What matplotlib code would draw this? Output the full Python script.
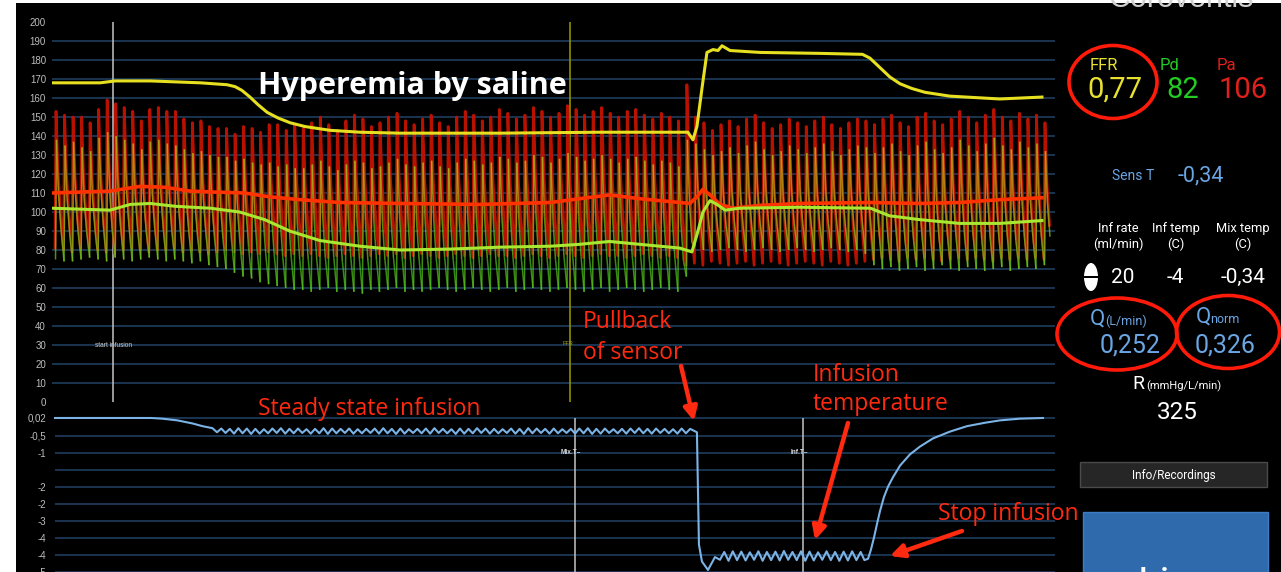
#!/usr/bin/env python3
"""Continuous thermodilution screen: pressures, FFR and infusion temperature."""

import numpy as np
import matplotlib
matplotlib.use("Agg")
import matplotlib.pyplot as plt
from matplotlib import font_manager
from matplotlib.patches import Rectangle, Ellipse
from matplotlib.collections import LineCollection
from matplotlib.colors import LinearSegmentedColormap, Normalize

W, H = 1281, 572

# ---------------- data ----------------
# beat clock of the pressure traces (seconds)
first_beat = 0.3
beat_period = 0.85

# aortic pressure Pa per beat (mmHg)
pa_sys = [153, 151, 150, 150, 147, 154, 159, 157, 155, 153,
          148, 154, 155, 153, 153, 149, 147, 148, 145, 144,
          144, 141, 145, 144, 142, 146, 146, 143, 146,
          144, 147, 150, 146, 143, 148, 151, 149, 145, 147,
          150, 152, 148, 146, 149, 151, 147, 145, 150, 153,
          151, 148, 150, 154, 152, 149, 151, 155, 153, 150,
          152, 156, 154, 151, 153, 155, 152, 150, 153, 154,
          151, 149, 152, 150, 148,
          167,
          150, 147, 143, 146, 148, 145, 149, 151, 147, 144,
          146, 149, 147, 145, 148, 150, 146, 144, 147, 149, 148,
          146, 149, 151, 147, 145, 150, 152, 148, 146, 149,
          153, 150, 147, 151, 154, 150, 148, 152, 149, 151, 147]
pa_dia = [81, 80, 79, 80, 81, 80, 79, 78, 80, 81,
          80, 79, 80, 80, 81, 79, 80, 79, 78, 79,
          80, 79, 78, 79, 78, 79, 78, 77, 78,
          77, 78, 77, 76, 77, 78, 77, 76, 77, 78,
          77, 78, 76, 77, 78, 77, 76, 77, 78, 77,
          76, 77, 78, 77, 77, 76, 77, 78, 77, 76,
          77, 78, 77, 76, 77, 78, 77, 77, 76, 77,
          78, 77, 76, 77, 76,
          72,
          73, 72, 74, 73, 72, 73, 74, 72, 73, 74,
          73, 72, 73, 74, 73, 72, 74, 73, 72, 73, 74,
          75, 76, 75, 74, 76, 75, 76, 75, 74, 75,
          76, 75, 76, 75, 74, 76, 75, 76, 75, 76, 75]

# distal pressure Pd per beat (mmHg)
pd_sys = [138, 135, 137, 134, 132, 139, 142, 140, 138, 136,
          133, 137, 138, 136, 135, 133, 131, 132, 130, 129, 129,
          127, 128, 126, 125, 126, 124, 125, 123,
          123, 125, 127, 124, 122, 125, 127, 126, 123, 124,
          126, 128, 125, 124, 126, 127, 124, 123, 126, 128,
          127, 125, 126, 129, 128, 126, 127, 130, 129, 126,
          128, 131, 129, 127, 128, 130, 128, 126, 128, 129,
          127, 125, 127, 126, 124,
          138,
          136, 133, 130, 132, 134, 131, 135, 137, 133, 130,
          132, 135, 133, 131, 134, 136, 132, 130, 133, 135, 134,
          131, 134, 136, 132, 130, 135, 137, 133, 131, 134,
          138, 135, 132, 136, 139, 135, 133, 137, 134, 136, 132]
pd_dia = [75, 74, 74, 75, 76, 75, 74, 76, 75, 74,
          75, 76, 75, 74, 75, 74, 73, 74, 72,
          71, 70, 68, 66, 65, 63, 62, 61, 60, 59,
          59, 58, 59, 60, 58, 59, 58, 57, 59, 58,
          59, 60, 58, 59, 58, 59, 60, 59, 58, 59,
          60, 59, 58, 59, 60, 58, 59, 60, 59, 58,
          59, 60, 59, 58, 59, 60, 58, 59, 60, 59,
          58, 59, 60, 59, 58,
          66,
          82, 80, 79, 80, 81, 80, 79, 80, 81, 80,
          79, 80, 81, 80, 79, 80, 81, 80, 79, 80, 78,
          72, 70, 71, 69, 70, 71, 69, 70, 72, 70,
          69, 71, 70, 69, 70, 71, 69, 70, 71, 70, 72]

# mean pressures and the upper ratio trace
pa_mean_t = [0.0, 2.8, 5.8, 8.8, 11.3, 13.8, 16.3, 19.2, 21.7, 24.7, 28.7,
             34.7, 42.7, 49.7, 52.6, 55.6, 58.6, 62.6, 63.6, 64.3, 64.9,
             65.6, 66.6, 67.9, 70.6, 74.6, 81.6, 86.5, 90.5, 94.5, 98.7]
pa_mean = [110, 110.5, 111, 113.5, 113, 111, 110.5, 110, 108, 106.5, 105,
           104.5, 104, 105, 107, 109, 107, 105, 104.5, 108, 112,
           109, 104, 102, 103.5, 104.5, 105, 104.5, 105, 106.5, 107.5]
pd_mean_t = [0.0, 2.8, 5.8, 7.8, 9.8, 12.3, 15.8, 18.7, 21.2, 23.7, 26.7,
             30.7, 34.7, 39.7, 44.7, 49.7, 52.6, 55.6, 58.6, 62.6, 63.8,
             64.3, 64.9, 65.6, 66.3, 67.1, 68.6, 74.6, 81.6, 83.5, 86.5,
             90.5, 94.5, 98.7]
pd_mean = [102, 101.5, 101, 104, 104.5, 103, 102, 100, 96, 90, 85,
           82, 80, 80.5, 81.5, 82, 83, 84.5, 83, 81, 79,
           88, 100, 106, 104, 101, 102, 102.5, 102, 98, 96,
           94, 94, 95.5]
ratio_t = [0.0, 4.8, 6.3, 9.8, 14.8, 17.45, 18.25, 18.94, 19.74, 20.54, 21.44,
           22.53, 23.73, 25.22, 27.72, 30.71, 34.7, 44.7, 54.6, 63.4, 63.9,
           64.3, 64.8, 65.3, 65.9, 66.4, 66.8, 67.6, 70.6, 76.6, 80.8,
           81.55, 82.55, 83.55, 84.55, 85.74, 87.04, 89.5, 94.5, 98.7]
ratio = [168, 168, 169, 169, 168, 167, 166, 164, 160.5, 156.5, 152.5,
         149.5, 147, 145, 143, 142, 141.5, 141.5, 142, 142, 138,
         145, 165, 184, 185.5, 185, 187.5, 185, 184, 183.5, 183,
         181, 176, 171, 167.5, 165, 163, 161, 159.5, 160.5]

# blood temperature (C)
temp_pre_t = [0.3, 5.0, 9.9, 11.0, 12.5, 14.0, 15.0, 16.0]
temp_pre = [0.02, 0.02, 0.02, 0.0, -0.05, -0.14, -0.22, -0.28]
steady_first_beat = 19
steady_lo = [-0.40, -0.42, -0.44, -0.43, -0.45, -0.44, -0.43, -0.42, -0.44, -0.43,
             -0.42, -0.44, -0.43, -0.45, -0.43, -0.42, -0.44, -0.43, -0.42, -0.44,
             -0.43, -0.45, -0.44, -0.42, -0.43, -0.44, -0.42, -0.43, -0.45, -0.44,
             -0.43, -0.42, -0.44, -0.43, -0.42, -0.44, -0.45, -0.43, -0.42, -0.44,
             -0.43, -0.42, -0.44, -0.43, -0.45, -0.44, -0.42, -0.43, -0.44, -0.42,
             -0.43, -0.44, -0.42, -0.43, -0.44, -0.43]
steady_hi = [-0.29, -0.30, -0.28, -0.29, -0.30, -0.31, -0.29, -0.28, -0.30, -0.29,
             -0.31, -0.30, -0.28, -0.29, -0.30, -0.29, -0.31, -0.30, -0.29, -0.28,
             -0.30, -0.29, -0.31, -0.30, -0.29, -0.28, -0.30, -0.31, -0.29, -0.30,
             -0.28, -0.29, -0.30, -0.31, -0.29, -0.30, -0.28, -0.29, -0.30, -0.29,
             -0.31, -0.30, -0.29, -0.28, -0.30, -0.29, -0.31, -0.30, -0.29, -0.28,
             -0.30, -0.29, -0.30, -0.31, -0.29, -0.30]
temp_drop_t = [63.9, 64.3, 64.4, 64.5, 64.8, 65.4, 66.1]
temp_drop = [-0.34, -0.40, -2.0, -3.7, -4.2, -4.45, -4.07]
plateau_first_beat = 78
plateau_lo = [-4.15, -4.18, -4.16, -4.17, -4.15, -4.18, -4.16, -4.17, -4.15,
              -4.16, -4.18, -4.17, -4.15, -4.16, -4.18, -4.17, -4.16]
plateau_hi = [-3.92, -3.90, -3.91, -3.93, -3.90, -3.92, -3.91, -3.89, -3.92,
              -3.90, -3.91, -3.93, -3.90, -3.92, -3.91, -3.90, -3.92]
temp_rise_t = [81.0, 81.36, 81.65, 81.95, 82.25, 82.55, 82.95, 83.35, 83.85,
               84.55, 85.54, 86.54, 87.84, 89.53, 91.23, 93.02, 94.52, 96.51, 98.8]
temp_rise = [-4.16, -4.12, -3.85, -3.5, -3.1, -2.72, -2.3, -2.0, -1.72,
             -1.38, -1.05, -0.82, -0.58, -0.38, -0.22, -0.12, -0.05, 0.0, 0.02]

pressure_ticks = list(range(0, 201, 10))
pressure_grid = list(range(10, 200, 10))
temp_ticks = [0.02, -0.5, -1, -1.5, -2, -2.5, -3, -3.5, -4, -4.5]
temp_tick_labels = ["0,02", "-0,5", "-1", "", "-2", "-2", "-3", "-4", "-4", "-5"]

top_events = ["start infusion", "FFR"]
top_event_t = [6.1, 51.65]
bottom_events = ["Mix.T", "Inf.T"]
bottom_event_t = [52.15, 74.85]

readout_ffr, readout_pd, readout_pa = "0,77", "82", "106"
readout_sens_t = "-0,34"
readout_inf_rate, readout_inf_temp, readout_mix_temp = "20", "-4", "-0,34"
readout_q, readout_qnorm, readout_r = "0,252", "0,326", "325"

# ---------------- style ----------------
RED = "#ff2a10"
BLUE_TXT = "#6aa6e4"
GRID = "#1c3857"
names = {f.name for f in font_manager.fontManager.ttflist}
PANEL = "Liberation Sans Narrow" if "Liberation Sans Narrow" in names else "Roboto"
plt.rcParams["font.family"] = ["Liberation Sans", "DejaVu Sans"]

# one heart beat: phase (s) and fraction of the pulse pressure
pulse_phase = [0.0, 0.05, 0.10, 0.30, 0.55]
pulse_level = [0.0, 0.5, 1.0, 0.55, 0.25]

beat_t = first_beat + beat_period * np.arange(len(pa_sys))


def pulse_path(sys_v, dia_v, delay):
    t, v = [], []
    for bt, s, d in zip(beat_t, sys_v, dia_v):
        for ph, lv in zip(pulse_phase, pulse_level):
            t.append(bt + delay + ph)
            v.append(d + lv * (s - d))
    return np.array(t), np.array(v)


def ripple(i0, lo, hi):
    t = beat_t[i0:i0 + len(lo)]
    return (np.column_stack([t, t + beat_period / 2]).ravel(),
            np.column_stack([lo, hi]).ravel())


def fx(x):
    return x / W


def fy(y):
    return 1 - y / H


fig = plt.figure(figsize=(W / 100, H / 100), dpi=100)
fig.patch.set_facecolor("white")
fig.add_artist(Rectangle((fx(16), 0), 1 - fx(16), fy(3), transform=fig.transFigure,
                         facecolor="black", edgecolor="none", zorder=-10))

ax_p = fig.add_axes([fx(52), fy(405), (1055 - 52) / W, (405 - 15) / H])
ax_t = fig.add_axes([fx(52), 0, (1055 - 52) / W, (572 - 405) / H])
for ax in (ax_p, ax_t):
    ax.set_facecolor("none")
    for sp in ax.spines.values():
        sp.set_visible(False)
    ax.set_xlim(0, 100)
    ax.set_xticks([])
    ax.tick_params(axis="y", length=0, pad=4.3, labelsize=7, labelcolor="#bdbdbd")
ax_p.set_ylim(-1.58, 203.7)
ax_t.set_ylim(-4.509, 0.402)

ax_p.set_yticks(pressure_ticks)
ax_p.set_yticklabels([str(v) for v in pressure_ticks])
ax_t.set_yticks(temp_ticks)
ax_t.set_yticklabels(temp_tick_labels)
ax_p.hlines(pressure_grid, 0, 100, color=GRID, lw=1.3, zorder=0)
ax_t.hlines(temp_ticks, 0.3, 100, color=GRID, lw=1.3, zorder=0)

# event markers
ax_p.vlines(top_event_t[0], 0, 200, color="#b5b5b5", lw=1.2, zorder=1)
ax_p.vlines(top_event_t[1], 0, 200, color="#8f8f00", lw=1.2, zorder=1)
ax_p.text(top_event_t[0], 30, top_events[0], fontsize=4.7, color="#d0d0d0",
          ha="center", va="center", zorder=7)
ax_p.text(top_event_t[1] - 0.2, 31, top_events[1], fontsize=4, color="#a8a820",
          ha="center", va="center", zorder=7)
for name, t in zip(bottom_events, bottom_event_t):
    ax_t.vlines(t, -4.6, 0.02, color="#b5b5b5", lw=1.2, zorder=1)
    ax_t.text(t + 0.55, -1.0, name + "\u2013", fontsize=4.7, color="#d8d8d8",
              fontweight="bold", ha="right", va="center", zorder=7)

# pulsatile pressures: Pa bars, Pd partly see-through on top
pa_t, pa_v = pulse_path(pa_sys, pa_dia, 0.0)
ax_p.plot(pa_t, pa_v, color="#c41200", lw=2.0, alpha=0.95, zorder=2)

pd_t, pd_v = pulse_path(pd_sys, pd_dia, 0.05)
pts = np.column_stack([pd_t, pd_v])
segs = np.stack([pts[:-1], pts[1:]], axis=1)
pd_cmap = LinearSegmentedColormap.from_list(
    "pd", ["#38c81c", "#78cc1c", "#b0b018", "#b0a010"])
lc = LineCollection(segs, cmap=pd_cmap, norm=Normalize(60, 140),
                    linewidths=1.1, alpha=0.7, zorder=3)
lc.set_array((pd_v[:-1] + pd_v[1:]) / 2)
ax_p.add_collection(lc)

ax_p.plot(pa_mean_t, pa_mean, color="#ff3300", lw=2.6, zorder=5)
ax_p.plot(pd_mean_t, pd_mean, color="#a8e830", lw=2.2, zorder=5)
ax_p.plot(ratio_t, ratio, color="#e6e020", lw=2.2, zorder=6)

# temperature
parts = [(np.array(temp_pre_t), np.array(temp_pre)),
         ripple(steady_first_beat, steady_lo, steady_hi),
         (np.array(temp_drop_t), np.array(temp_drop)),
         ripple(plateau_first_beat, plateau_lo, plateau_hi),
         (np.array(temp_rise_t), np.array(temp_rise))]
temp_t = np.concatenate([p[0] for p in parts])
temp_v = np.concatenate([p[1] for p in parts])
ax_t.plot(temp_t, temp_v, color="#7bb3e6", lw=1.5, zorder=3)

# ---------------- overlay text and arrows ----------------
fig.text(fx(258), fy(94), "Hyperemia by saline", family="Open Sans", fontsize=22,
         fontweight="bold", color="white", ha="left", va="baseline", zorder=10)
notes = [("Pullback", 583, 328), ("of sensor", 583, 359),
         ("Infusion", 813, 381), ("temperature", 813, 410),
         ("Steady state infusion", 258, 415), ("Stop infusion", 938, 520)]
for s, x, y in notes:
    fig.text(fx(x), fy(y), s, family="Open Sans", fontsize=16.5, color=RED,
             ha="left", va="baseline", zorder=10)
arrows = [((681, 366), (694, 421)), ((848, 423), (815, 540)), ((962, 531), (890, 556))]
for (x0, y0), (x1, y1) in arrows:
    ax_t.annotate("", xy=(x1, H - y1), xytext=(x0, H - y0), xycoords="figure pixels",
                  textcoords="figure pixels", annotation_clip=False, zorder=10,
                  arrowprops=dict(arrowstyle="-|>", color=RED, lw=3.2,
                                  mutation_scale=20, shrinkA=0, shrinkB=0))

# ---------------- right panel ----------------
def ptext(x, y, s, size, color, ha="left", va="baseline", **kw):
    fig.text(fx(x), fy(y), s, family=PANEL, fontsize=size, color=color,
             ha=ha, va=va, zorder=10, **kw)


fig.text(fx(1108), fy(7), "Coroventis", fontsize=22, color="#d0d0d0",
         ha="left", va="baseline", zorder=10)

YEL, GRN, PRED = "#e8e030", "#22cc22", "#e0201a"
ptext(1090, 70, "FFR", 12, YEL)
ptext(1087, 98, readout_ffr, 21, YEL)
ptext(1160, 70, "Pd", 12, GRN)
ptext(1166, 98, readout_pd, 21, GRN)
ptext(1217, 70, "Pa", 12, PRED)
ptext(1219, 98, readout_pa, 21, PRED)

ptext(1112, 180, "Sens T", 10, BLUE_TXT)
ptext(1178, 181, readout_sens_t, 15.5, BLUE_TXT)

for cx, l1, l2 in [(1118, "Inf rate", "(ml/min)"), (1176, "Inf temp", "(C)"),
                   (1243, "Mix temp", "(C)")]:
    ptext(cx, 232, l1, 9.3, "white", ha="center")
    ptext(cx, 248, l2, 9.3, "white", ha="center")
for cx, s in [(1123, readout_inf_rate), (1175, readout_inf_temp), (1243, readout_mix_temp)]:
    ptext(cx, 283, s, 15, "white", ha="center")
fig.add_artist(Ellipse((fx(1091), fy(277)), 14 / W, 28 / H, transform=fig.transFigure,
                       facecolor="white", edgecolor="none", zorder=9))
fig.add_artist(Rectangle((fx(1084), fy(278)), 14 / W, 2 / H, transform=fig.transFigure,
                         facecolor="black", edgecolor="none", zorder=10))

ptext(1090, 325, "Q", 16, BLUE_TXT)
ptext(1105, 325, "(L/min)", 9, BLUE_TXT)
ptext(1100, 353, readout_q, 18, BLUE_TXT)
ptext(1196, 323, "Q", 16, BLUE_TXT)
ptext(1210, 323, "norm", 9, BLUE_TXT)
ptext(1195, 353, readout_qnorm, 18, BLUE_TXT)
ptext(1132, 389, "R", 14, "white")
ptext(1146, 389, "(mmHg/L/min)", 8, "white")
ptext(1177, 419, readout_r, 17.5, "white", ha="center")

for cx, cy, w, h in [(1113, 82, 88, 73), (1117, 334, 120, 72), (1228, 332, 103, 73)]:
    fig.add_artist(Ellipse((fx(cx), fy(cy)), w / W, h / H, transform=fig.transFigure,
                           fill=False, edgecolor="#ff1a0a", lw=2.6, zorder=11))

fig.add_artist(Rectangle((fx(1080), fy(487)), 187 / W, 25 / H, transform=fig.transFigure,
                         facecolor="#262626", edgecolor="#4a4a4a", lw=1, zorder=8))
ptext(1174, 475, "Info/Recordings", 8.5, "white", ha="center", va="center")
fig.add_artist(Rectangle((fx(1083), 0), 185 / W, 60 / H, transform=fig.transFigure,
                         facecolor="#2f6aad", edgecolor="#3d7cc4", lw=1, zorder=8))
ptext(1175, 597, "Live", 30, "white", ha="center")

fig.savefig("out.png", dpi=100, facecolor=fig.get_facecolor())
plt.close(fig)
